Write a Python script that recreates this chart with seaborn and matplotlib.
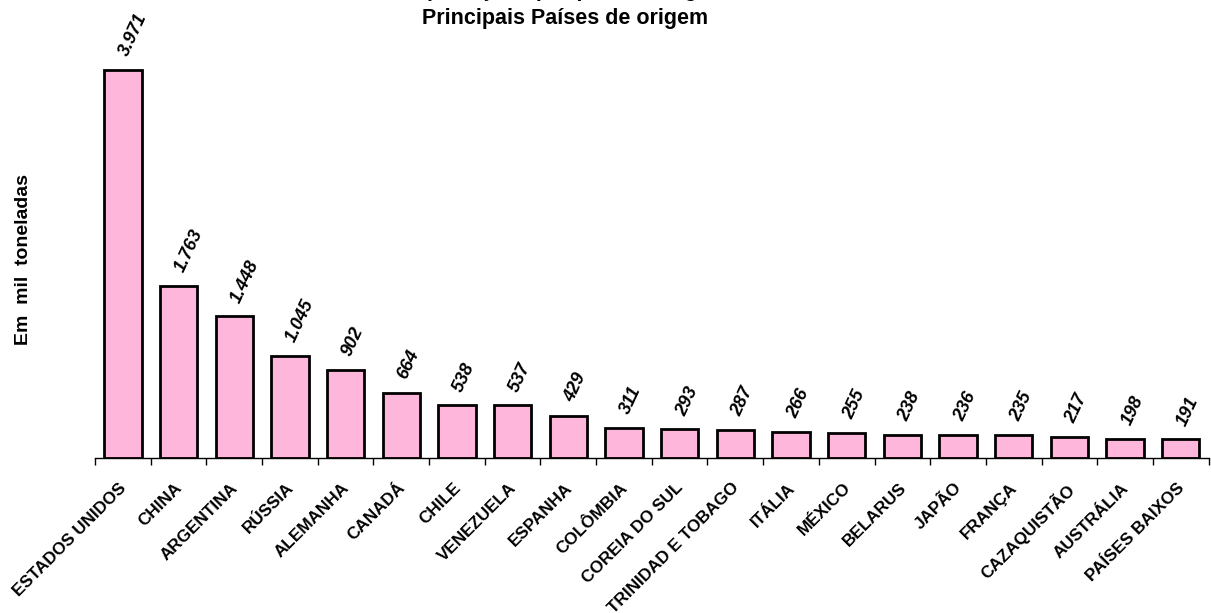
import numpy as np
import pandas as pd
import matplotlib
matplotlib.use("Agg")
import matplotlib.pyplot as plt
import matplotlib.transforms as mtransforms
import seaborn as sns

paises = ["ESTADOS UNIDOS", "CHINA", "ARGENTINA", "RÚSSIA", "ALEMANHA", "CANADÁ",
          "CHILE", "VENEZUELA", "ESPANHA", "COLÔMBIA", "COREIA DO SUL",
          "TRINIDAD E TOBAGO", "ITÁLIA", "MÉXICO", "BELARUS", "JAPÃO", "FRANÇA",
          "CAZAQUISTÃO", "AUSTRÁLIA", "PAÍSES BAIXOS"]
valores = [3971, 1763, 1448, 1045, 902, 664, 538, 537, 429, 311, 293, 287, 266,
           255, 238, 236, 235, 217, 198, 191]

df = pd.DataFrame({"pais": paises, "valor": valores})

sns.set_style("white")
plt.rcParams["font.family"] = ["Liberation Sans", "DejaVu Sans"]
plt.rcParams["text.color"] = "black"
plt.rcParams["axes.labelcolor"] = "black"
plt.rcParams["xtick.color"] = "black"

fig = plt.figure(figsize=(12.11, 6.13), dpi=100)
ax = fig.add_axes([0.0785, 0.2529, 0.9195, 0.7177])

sns.barplot(data=df, x="pais", y="valor", color="#FFB6DB", saturation=1,
            edgecolor="black", linewidth=2, width=0.67, ax=ax)

ax.set_xlim(-0.5, len(paises) - 0.5)
ax.set_ylim(0, 4500)

# rotulos de valor
for i, v in enumerate(valores):
    txt = f"{v:,}".replace(",", ".")
    ax.text(i + 0.02, v + 150, txt, rotation=65, rotation_mode="anchor",
            ha="left", va="center", fontsize=13, fontweight="bold",
            fontstyle="italic")

# eixo x
for s in ["top", "right", "left"]:
    ax.spines[s].set_visible(False)
ax.spines["bottom"].set_color("black")
ax.spines["bottom"].set_linewidth(1)
ax.set_yticks([])
ax.set_xticks(range(len(paises)))
ax.set_xticks(np.arange(-0.5, len(paises)), minor=True)
ax.tick_params(axis="x", which="major", length=0, pad=16)
ax.tick_params(axis="x", which="minor", length=5, width=1, direction="out",
               color="black", bottom=True)
ax.set_xticklabels(paises, rotation=45, ha="right", rotation_mode="anchor",
                   fontsize=12.3, fontweight="bold")
shift = mtransforms.ScaledTranslation(-4 / 100, 0, fig.dpi_scale_trans)
for lbl in ax.get_xticklabels():
    lbl.set_transform(lbl.get_transform() + shift)
ax.set_xlabel("")
ax.set_ylabel("Em  mil  toneladas", fontsize=14, fontweight="bold")
ax.yaxis.set_label_coords(-0.057, 0.45)

fig.text(0.4665, 1.0 + 4 / 613, "Importações por país de origem", ha="center",
         va="baseline", fontsize=15.5, fontweight="bold")
fig.text(0.4665, 1.0 - 8 / 613, "Principais Países de origem", ha="center",
         va="top", fontsize=15.5, fontweight="bold")

fig.savefig("out.png", dpi=100)
